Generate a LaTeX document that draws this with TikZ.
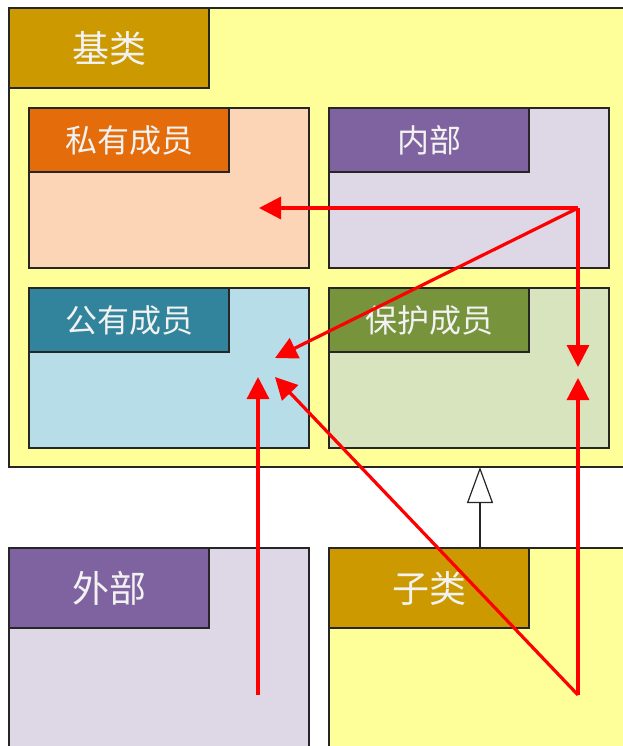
\documentclass[tikz,border=0pt]{standalone}
\usepackage{fontspec}
\newfontfamily\cjkfont{Noto Sans CJK SC}
\usepackage{tikz}
\usetikzlibrary{arrows.meta,positioning}
\definecolor{classfill}{HTML}{FFFF99}
\definecolor{classhead}{HTML}{CC9900}
\definecolor{privfill}{HTML}{FBD5B5}
\definecolor{privhead}{HTML}{E46C0A}
\definecolor{innerfill}{HTML}{DDD7E6}
\definecolor{innerhead}{HTML}{7F63A0}
\definecolor{pubfill}{HTML}{B7DDE8}
\definecolor{pubhead}{HTML}{31849B}
\definecolor{protfill}{HTML}{D7E4BD}
\definecolor{prothead}{HTML}{77933C}
\definecolor{labeltext}{HTML}{F2F2F2}
\tikzset{
  box/.style={draw=black!85, line width=1.3pt, inner sep=0pt, outer sep=0pt, anchor=north west},
  member/.style={box, minimum width=280pt, minimum height=160pt},
  head/.style={box, text=labeltext, minimum width=200pt, minimum height=64pt,
    font=\cjkfont\fontsize{32}{32}\selectfont},
  bighead/.style={head, minimum height=80pt, font=\cjkfont\fontsize{37}{37}\selectfont},
  access/.style={red, line width=3.2pt, -{Triangle[length=22pt,width=22pt]}},
  inherit/.style={black!85, line width=1.2pt, -{Triangle[open,length=36pt,width=26pt,fill=white]}}
}
\begin{document}
\begin{tikzpicture}[x=1pt,y=-1pt]
\useasboundingbox (0,0) rectangle (623,746);
\fill[white] (0,0) rectangle (623,746);
\clip (0,0) rectangle (623,746);
% base class
\node[box, fill=classfill, minimum width=641pt, minimum height=459pt] (base) at (9,8) {};
\node[bighead, fill=classhead] (basehead) at (base.north west) {基类};
% members
\node[member, fill=privfill] (priv) at (29,108) {};
\node[head, fill=privhead] (privhead) at (priv.north west) {私有成员};
\node[member, fill=innerfill] (inner) at (329,108) {};
\node[head, fill=innerhead] (innerhead) at (inner.north west) {内部};
\node[member, fill=pubfill] (pub) at (29,288) {};
\node[head, fill=pubhead] (pubhead) at (pub.north west) {公有成员};
\node[member, fill=protfill] (prot) at (329,288) {};
\node[head, fill=prothead] (prothead) at (prot.north west) {保护成员};
% outside and subclass
\node[box, fill=innerfill, minimum width=300pt, minimum height=220pt] (ext) at (9,548) {};
\node[bighead, fill=innerhead] (exthead) at (ext.north west) {外部};
\node[box, fill=classfill, minimum width=321pt, minimum height=220pt] (sub) at (329,548) {};
\node[bighead, fill=classhead] (subhead) at (sub.north west) {子类};
\draw[inherit] ([xshift=151pt]sub.north west) -- ([xshift=151pt]sub.north west |- base.south);
% access paths
\coordinate (innerfrom) at (578,208);
\coordinate (privto) at (259,208);
\coordinate (pubto) at (275,358);
\coordinate (protto) at (578,367);
\coordinate (extfrom) at (258,695);
\coordinate (extto) at (258,377);
\coordinate (subfrom) at (578,695);
\coordinate (subprotto) at (578,378);
\coordinate (subpubto) at (275,377);
\draw[access] (innerfrom) -- (privto);
\draw[access] (innerfrom) -- (pubto);
\draw[access] (innerfrom) -- (protto);
\draw[access] (extfrom) -- (extto);
\draw[access] (subfrom) -- (subprotto);
\draw[access] (subfrom) -- (subpubto);
\end{tikzpicture}
\end{document}
